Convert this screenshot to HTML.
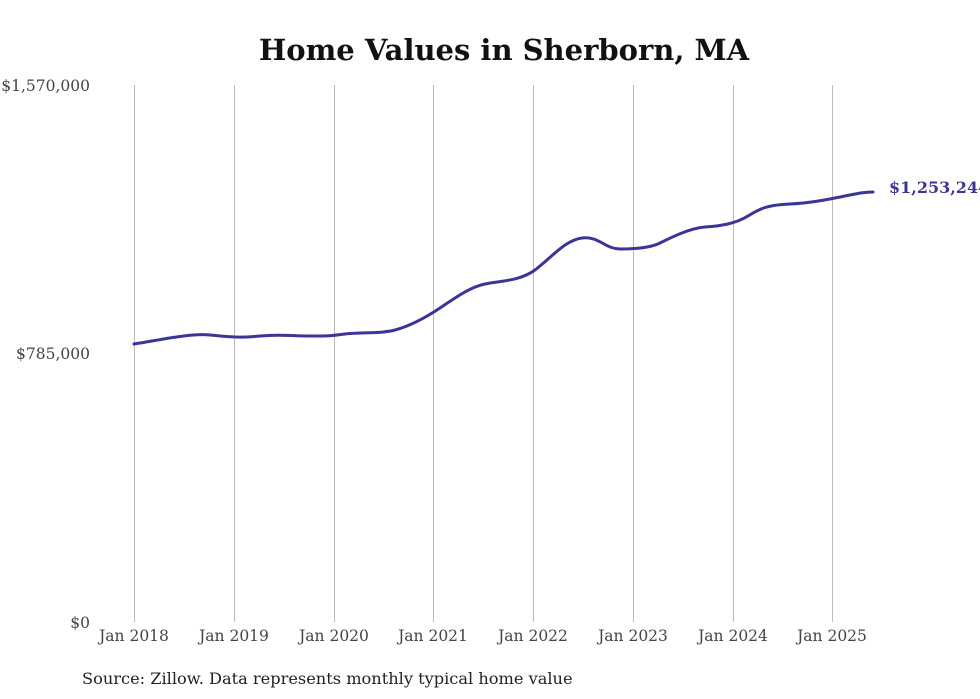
<!DOCTYPE html>
<html><head><meta charset="utf-8"><style>
html,body{margin:0;padding:0;background:#fff;}
svg{display:block;}
text{font-family:"DejaVu Serif","Liberation Serif",serif;}
</style></head><body>
<svg width="980" height="699" viewBox="0 0 980 699" xmlns="http://www.w3.org/2000/svg">
<rect width="980" height="699" fill="#fff"/>
<text x="504" y="60" text-anchor="middle" font-size="29" font-weight="bold" fill="#111">Home Values in Sherborn, MA</text>
<g stroke="#bbb" stroke-width="1">
<line x1="134.5" y1="85" x2="134.5" y2="622"/>
<line x1="234.5" y1="85" x2="234.5" y2="622"/>
<line x1="334.5" y1="85" x2="334.5" y2="622"/>
<line x1="433.5" y1="85" x2="433.5" y2="622"/>
<line x1="533.5" y1="85" x2="533.5" y2="622"/>
<line x1="633.5" y1="85" x2="633.5" y2="622"/>
<line x1="733.5" y1="85" x2="733.5" y2="622"/>
<line x1="832.5" y1="85" x2="832.5" y2="622"/>
</g>
<g font-size="15.5" fill="#444" text-anchor="end">
<text x="90" y="91">$1,570,000</text>
<text x="90" y="359">$785,000</text>
<text x="90" y="628">$0</text>
</g>
<g font-size="15.5" fill="#444" text-anchor="middle">
<text x="134" y="641">Jan 2018</text>
<text x="234" y="641">Jan 2019</text>
<text x="334" y="641">Jan 2020</text>
<text x="433" y="641">Jan 2021</text>
<text x="533" y="641">Jan 2022</text>
<text x="633" y="641">Jan 2023</text>
<text x="733" y="641">Jan 2024</text>
<text x="832" y="641">Jan 2025</text>
</g>
<path fill="none" stroke="#3b3597" stroke-width="3" stroke-linecap="round"
d="M134,344 C160,340 190,333 210,335 S240,338 260,336 S290,336 310,336 S330,336 345,334 S380,334 395,330 S425,318 440,308 S470,287 485,284 S520,281 535,270 S565,240 582,238 S605,249 620,249 S650,248 660,243 S690,228 705,227 S735,224 748,216 S768,205 790,204 S830,199 845,196 S865,192 873,192"/>
<text x="889" y="193" font-size="16" font-weight="bold" fill="#3b3597">$1,253,244</text>
<text x="82" y="684" font-size="16.2" fill="#222">Source: Zillow. Data represents monthly typical home value</text>
</svg>
</body></html>
